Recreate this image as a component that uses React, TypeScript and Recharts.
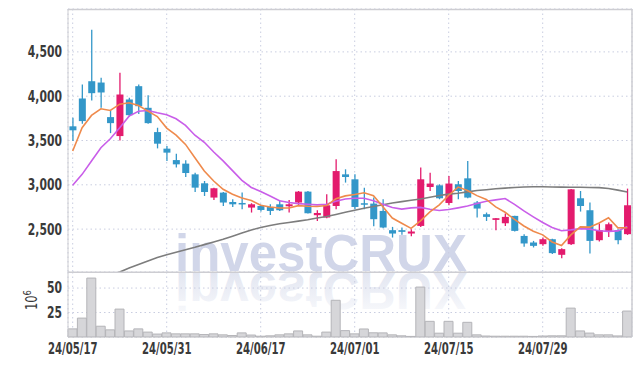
import React from "react";
import { ComposedChart, Bar, Line, XAxis, YAxis, CartesianGrid } from "recharts";

const dates = [
  "24/05/17", "24/05/20", "24/05/21", "24/05/22", "24/05/23", "24/05/24", "24/05/27", "24/05/28", "24/05/29", "24/05/30",
  "24/05/31", "24/06/03", "24/06/04", "24/06/05", "24/06/07", "24/06/10", "24/06/11", "24/06/12", "24/06/13", "24/06/14",
  "24/06/17", "24/06/18", "24/06/19", "24/06/20", "24/06/21", "24/06/24", "24/06/25", "24/06/26", "24/06/27", "24/06/28",
  "24/07/01", "24/07/02", "24/07/03", "24/07/04", "24/07/05", "24/07/08", "24/07/09", "24/07/10", "24/07/11", "24/07/12",
  "24/07/15", "24/07/16", "24/07/17", "24/07/18", "24/07/19", "24/07/22", "24/07/23", "24/07/24", "24/07/25", "24/07/26",
  "24/07/29", "24/07/30", "24/07/31", "24/08/01", "24/08/02", "24/08/05", "24/08/06", "24/08/07", "24/08/08", "24/08/09",
];

const opens = [
  3660, 3974, 4169, 4154, 3764, 3550, 3963, 4113, 3869, 3595,
  3408, 3279, 3239, 3118, 3017, 2856, 2912, 2806, 2795, 2743,
  2761, 2750, 2780, 2758, 2800, 2923, 2657, 2631, 2761, 3118,
  3062, 2792, 2788, 2705, 2488, 2488, 2450, 2536, 2975, 2994,
  2795, 3006, 3073, 2800, 2668, 2604, 2566, 2649, 2423, 2349,
  2330, 2386, 2210, 2330, 2848, 2713, 2375, 2480, 2488, 2443,
];
const highs = [
  3757, 4132, 4751, 4207, 3839, 4264, 3982, 4132, 4011, 3644,
  3437, 3351, 3276, 3137, 3043, 2968, 2919, 2837, 2912, 2792,
  2775, 2780, 2826, 2829, 2930, 2930, 2713, 2893, 3287, 3175,
  3118, 2968, 2856, 2837, 2525, 2518, 2499, 3194, 3137, 3006,
  3099, 3043, 3268, 2818, 2687, 2625, 2676, 2652, 2443, 2367,
  2405, 2390, 2285, 2952, 2930, 2800, 2563, 2574, 2499, 2957,
];
const lows = [
  3493, 3689, 3952, 3869, 3583, 3501, 3771, 3800, 3689, 3411,
  3268, 3194, 3088, 2919, 2874, 2829, 2761, 2750, 2724, 2687,
  2700, 2660, 2705, 2687, 2761, 2676, 2592, 2623, 2724, 3025,
  2724, 2724, 2533, 2510, 2405, 2435, 2420, 2525, 2930, 2837,
  2769, 2837, 2848, 2631, 2592, 2488, 2536, 2473, 2300, 2293,
  2311, 2218, 2172, 2322, 2698, 2225, 2360, 2412, 2330, 2435,
];
const closes = [
  3615, 3719, 4034, 4042, 3696, 4019, 3786, 3887, 3696, 3464,
  3363, 3231, 3133, 2968, 2919, 2961, 2800, 2780, 2781, 2780,
  2716, 2705, 2713, 2780, 2923, 2679, 2682, 2769, 3155, 3088,
  2750, 2782, 2612, 2518, 2450, 2469, 2473, 3062, 3014, 2848,
  3014, 2930, 2856, 2732, 2638, 2623, 2638, 2480, 2338, 2311,
  2386, 2229, 2274, 2949, 2761, 2367, 2488, 2555, 2375, 2769,
];
// volume in millions of shares
const volumes = [
  8.3, 19.3, 60.2, 11, 7.3, 28.5, 6.2, 8.3, 5, 3,
  4.2, 3.2, 3.2, 3.2, 2.5, 3.2, 2.2, 1.5, 4.2, 2,
  0.8, 1.2, 2.2, 3.2, 6.2, 2.2, 0.8, 5, 37.5, 6.5,
  3.2, 8.2, 4.3, 4.2, 2.2, 1.2, 0.6, 51, 16, 3.9,
  16, 3.9, 15, 2.2, 1, 0.8, 0.8, 0.8, 0.8, 0.6,
  1, 1.2, 1.2, 29.5, 6.2, 4, 2.2, 2.2, 1.1, 26.5,
];
const ma5 = [
  3381, 3644, 3783, 3858, 3839, 3910, 3926, 3895, 3831, 3770,
  3640, 3560, 3456, 3306, 3155, 3043, 2949, 2893, 2850, 2822,
  2770, 2750, 2738, 2738, 2765, 2758, 2755, 2766, 2842, 2875,
  2890, 2910, 2877, 2752, 2625, 2566, 2508, 2594, 2694, 2773,
  2882, 2974, 2935, 2878, 2835, 2750, 2690, 2610, 2535, 2476,
  2435, 2355, 2315, 2435, 2525, 2522, 2570, 2628, 2514, 2515,
];
const ma20 = [
  2994, 3118, 3268, 3419, 3520, 3644, 3775, 3831, 3839, 3813,
  3790, 3745, 3670, 3560, 3480, 3370, 3270, 3160, 3050, 2970,
  2925, 2874, 2820, 2800, 2788, 2780, 2773, 2780, 2815, 2840,
  2848, 2848, 2820, 2780, 2743, 2726, 2740, 2745, 2725, 2710,
  2722, 2740, 2760, 2788, 2815, 2830, 2845, 2780, 2705, 2638,
  2574, 2518, 2482, 2491, 2505, 2500, 2482, 2475, 2480, 2530,
];
const ma60 = [
  1830, 1870, 1910, 1945, 1980, 2015, 2060, 2100, 2140, 2180,
  2210, 2240, 2268, 2295, 2325, 2355, 2385, 2420, 2455, 2490,
  2518, 2540, 2560, 2575, 2590, 2605, 2625, 2642, 2665, 2690,
  2712, 2735, 2755, 2775, 2795, 2810, 2825, 2840, 2860, 2880,
  2895, 2905, 2920, 2935, 2945, 2955, 2963, 2970, 2975, 2978,
  2978, 2976, 2974, 2972, 2972, 2970, 2968, 2958, 2940, 2919,
];

const dateTicks = ["24/05/17", "24/05/31", "24/06/17", "24/07/01", "24/07/15", "24/07/29"];
const priceTicks = [2500, 3000, 3500, 4000, 4500];
const volumeTicks = [25, 50];

const data = dates.map((date, i) => ({
  date,
  open: opens[i],
  high: highs[i],
  low: lows[i],
  close: closes[i],
  volume: volumes[i],
  ma5: ma5[i],
  ma20: ma20[i],
  ma60: ma60[i],
}));

const UP = "#e31b6d";
const DOWN = "#3397c9";
const GRID = "#c9cde0";
const FRAME = "#cdcdd2";
const FONT = "'DejaVu Sans Condensed', 'DejaVu Sans', sans-serif";

// narrow, heavy tick labels like the original
const YTick = (props: any) => {
  const { x, y, payload, tickFormatter } = props;
  const label = tickFormatter ? tickFormatter(payload.value) : payload.value;
  return (
    <text
      transform={`translate(${x},${y}) scale(0.8,1)`}
      textAnchor="end"
      dy="0.36em"
      fontSize={15}
      fontWeight={700}
      fill="#3a3a3a"
      fontFamily={FONT}
    >
      {label}
    </text>
  );
};

const XTick = (props: any) => {
  const { x, y, payload } = props;
  return (
    <text
      transform={`translate(${x},${y}) scale(0.75,1)`}
      textAnchor="middle"
      dy="0.72em"
      fontSize={15}
      fontWeight={700}
      fill="#3a3a3a"
      fontFamily={FONT}
    >
      {payload.value}
    </text>
  );
};

const Candle = (props: any) => {
  const { x, y, width, height, payload } = props;
  if (!payload) return null;
  const top = Math.min(y, y + height);
  const h = Math.abs(height);
  const span = payload.high - payload.low || 1;
  const py = (v: number) => top + ((payload.high - v) / span) * h;
  const cx = x + width / 2;
  const color = payload.close >= payload.open ? UP : DOWN;
  const bTop = py(Math.max(payload.open, payload.close));
  const bBot = py(Math.min(payload.open, payload.close));
  return (
    <g>
      <line x1={cx} x2={cx} y1={top} y2={top + h} stroke={color} strokeWidth={1.3} />
      <rect x={cx - 3.5} y={bTop} width={7} height={Math.max(1.5, bBot - bTop)} fill={color} />
    </g>
  );
};

const VolumeLabel = () => (
  <text
    transform="translate(37,300) rotate(-90) scale(0.85,1)"
    textAnchor="middle"
    fontSize={15}
    fill="#3a3a3a"
    fontFamily={FONT}
  >
    10<tspan dy={-6} fontSize={11}>6</tspan>
  </text>
);

const Watermark = () => (
  <svg width={642} height={366} style={{ position: "absolute", left: 0, top: 0 }}>
    <defs>
      <linearGradient id="fade" gradientUnits="userSpaceOnUse" x1={0} y1={271} x2={0} y2={226}>
        <stop offset="0" stopColor="#d6dbeb" stopOpacity={0.7} />
        <stop offset="1" stopColor="#d6dbeb" stopOpacity={0.12} />
      </linearGradient>
    </defs>
    <text x={175} y={271} fontSize={51} fontWeight={700} fontFamily="'Liberation Sans', Arial, sans-serif" fill="#d1d6e9">
      investCRUX
    </text>
    <g transform="translate(0,544) scale(1,-1)">
      <text x={175} y={271} fontSize={51} fontWeight={700} fontFamily="'Liberation Sans', Arial, sans-serif" fill="url(#fade)">
        investCRUX
      </text>
    </g>
  </svg>
);

export default function App() {
  return (
    <div style={{ position: "absolute", left: 0, top: 0, width: 642, height: 366, background: "#fff" }}>
      <Watermark />
      <div style={{ position: "absolute", left: 0, top: 0 }}>
        <ComposedChart width={642} height={272} data={data} margin={{ top: 9, right: 10, bottom: 0, left: 8 }}>
          <CartesianGrid stroke={GRID} strokeDasharray="1.5 3" />
          <XAxis dataKey="date" ticks={dateTicks} hide />
          <YAxis
            domain={[2016, 4984]}
            ticks={priceTicks}
            allowDataOverflow
            width={60}
            tickSize={0}
            tickMargin={6}
            axisLine={{ stroke: FRAME }}
            tick={<YTick />}
            tickFormatter={(v: number) => v.toLocaleString("en-US")}
          />
          <Bar dataKey={(d: any) => [d.low, d.high]} shape={Candle} isAnimationActive={false} />
          <Line dataKey="ma60" type="linear" stroke="#7d7d7d" strokeWidth={1.6} dot={false} isAnimationActive={false} />
          <Line dataKey="ma20" type="linear" stroke="#c95ee9" strokeWidth={1.6} dot={false} isAnimationActive={false} />
          <Line dataKey="ma5" type="linear" stroke="#ef8a4c" strokeWidth={1.6} dot={false} isAnimationActive={false} />
        </ComposedChart>
      </div>
      <div style={{ position: "absolute", left: 0, top: 272 }}>
        <ComposedChart width={642} height={94} data={data} barCategoryGap={0} margin={{ top: 0, right: 10, bottom: 0, left: 8 }}>
          <CartesianGrid stroke={GRID} strokeDasharray="1.5 3" />
          <XAxis
            dataKey="date"
            ticks={dateTicks}
            interval={0}
            height={29}
            tickSize={0}
            tickMargin={6}
            axisLine={false}
            tick={<XTick />}
          />
          <YAxis
            domain={[0, 66.4]}
            ticks={volumeTicks}
            width={60}
            tickSize={0}
            tickMargin={6}
            axisLine={{ stroke: FRAME }}
            tick={<YTick />}
          />
          <Bar dataKey="volume" fill="#d6d6d9" stroke="#b4b4b8" strokeWidth={1} isAnimationActive={false} />
        </ComposedChart>
      </div>
      <svg width={642} height={366} style={{ position: "absolute", left: 0, top: 0, pointerEvents: "none" }}>
        <VolumeLabel />
        <line x1={68} x2={632} y1={9.5} y2={9.5} stroke={FRAME} strokeWidth={1.5} />
        <line x1={632} x2={632} y1={9} y2={337} stroke={FRAME} strokeWidth={1.5} />
        <line x1={68} x2={632} y1={272.3} y2={272.3} stroke={FRAME} strokeWidth={1.5} />
      </svg>
    </div>
  );
}
